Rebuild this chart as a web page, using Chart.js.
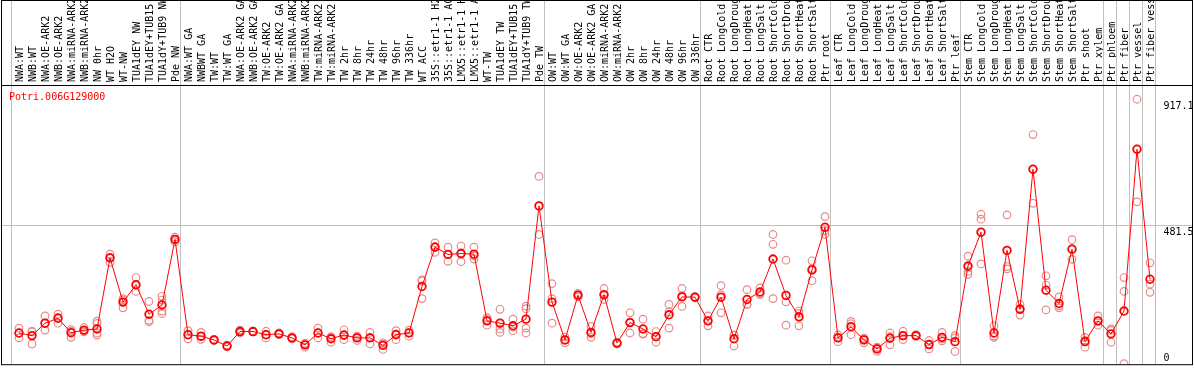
<!DOCTYPE html>
<html lang="en">
<head>
  <meta charset="UTF-8">
  <title>Potri.006G129000</title>
  <script src="https://cdn.jsdelivr.net/npm/chart.js"></script>
  <style>
    html, body { margin: 0; padding: 0; background: #ffffff; }
    canvas { display: block; }
  </style>
</head>
<body>
  <canvas id="exprChart" width="1194" height="370"></canvas>

  <script>
    const geneName = 'Potri.006G129000';

    const categories = [
      'NWA:WT', 'NWB:WT', 'NWA:OE-ARK2', 'NWB:OE-ARK2', 'NWA:miRNA-ARK2', 'NWB:miRNA-ARK2',
      'NW 0hr', 'WT H2O', 'WT-NW', 'TUA1dEY NW', 'TUA1dEY+TUB15', 'TUA1dY+TUB9 NW', 'Pde NW',
      'NWA:WT GA', 'NWBWT GA', 'TW:WT', 'TW:WT GA', 'NWA:OE-ARK2 GA', 'NWB:OE-ARK2 GA',
      'TW:OE-ARK2', 'TW:OE-ARK2 GA', 'NWA:miRNA-ARK2', 'NWB:miRNA-ARK2', 'TW:miRNA-ARK2', 'TW:miRNA-ARK2',
      'TW 2hr', 'TW 8hr', 'TW 24hr', 'TW 48hr', 'TW 96hr', 'TW 336hr', 'WT ACC',
      '35S::etr1-1 H2', '35S::etr1-1 AC', 'LMX5::etr1-1 H', 'LMX5::etr1-1 A',
      'WT-TW', 'TUA1dEY TW', 'TUA1dEY+TUB15', 'TUA1dY+TUB9 TW', 'Pde TW',
      'OW:WT', 'OW:WT GA', 'OW:OE-ARK2', 'OW:OE-ARK2 GA', 'OW:miRNA-ARK2', 'OW:miRNA-ARK2',
      'OW 2hr', 'OW 8hr', 'OW 24hr', 'OW 48hr', 'OW 96hr', 'OW 336hr',
      'Root CTR', 'Root LongCold', 'Root LongDroug', 'Root LongHeat', 'Root LongSalt',
      'Root ShortCold', 'Root ShortDrou', 'Root ShortHeat', 'Root ShortSalt', 'Ptr root',
      'Leaf CTR', 'Leaf LongCold', 'Leaf LongDroug', 'Leaf LongHeat', 'Leaf LongSalt',
      'Leaf ShortCold', 'Leaf ShortDrou', 'Leaf ShortHeat', 'Leaf ShortSalt', 'Ptr leaf',
      'Stem CTR', 'Stem LongCold', 'Stem LongDroug', 'Stem LongHeat', 'Stem LongSalt',
      'Stem ShortCold', 'Stem ShortDrou', 'Stem ShortHeat', 'Stem ShortSalt', 'Ptr shoot',
      'Ptr xylem', 'Ptr phloem', 'Ptr fiber', 'Ptr vessel', 'Ptr fiber vess'
    ];

    // mean expression per sample
    const meanValues = [
      108, 99, 142, 159, 109, 118, 122, 368, 215, 275, 173, 205, 432,
      102, 97, 84, 63, 113, 113, 102, 105, 91, 67, 108, 88, 101, 91, 91, 65, 102, 108,
      269, 405, 380, 383, 381, 150, 142, 133, 156, 548,
      215, 84, 239, 110, 241, 73, 144, 122, 95, 171, 233, 232,
      150, 232, 88, 224, 250, 364, 238, 164, 326, 474,
      91, 130, 84, 53, 90, 99, 99, 68, 93, 78,
      340, 457, 108, 394, 190, 675, 256, 210, 398, 78,
      150, 105, 184, 744, 294
    ];

    // individual replicates per sample
    const replicateValues = [
      [125, 108, 91], [114, 112, 70], [167, 142, 118], [173, 162, 142], [93, 114, 120],
      [127, 112, 116], [149, 141, 101, 108], [381, 370, 352], [227, 222, 195], [300, 273, 252],
      [217, 152, 147], [235, 222, 184, 175], [440, 432, 424],
      [116, 102, 88], [110, 95, 86], [86, 84, 82], [66, 63, 60], [118, 113, 108],
      [114, 113, 112], [114, 102, 91], [108, 104, 103], [95, 90, 88], [59, 72, 70],
      [125, 108, 91], [95, 93, 76], [119, 99, 85], [97, 94, 82], [110, 93, 70],
      [70, 74, 51], [116, 105, 85], [118, 110, 97], [292, 288, 227], [420, 408, 387],
      [405, 380, 356], [409, 385, 355], [405, 375, 364], [161, 154, 135], [190, 122, 110],
      [156, 128, 116], [201, 192, 125, 108], [650, 548, 449],
      [279, 227, 142], [94, 84, 74], [245, 239, 233], [131, 106, 93], [262, 238, 224],
      [76, 73, 70], [178, 146, 108], [156, 106, 104], [113, 96, 76], [207, 181, 125],
      [262, 237, 200], [234, 232, 230],
      [167, 150, 133], [272, 241, 178], [101, 100, 63], [258, 207, 207], [264, 245, 241],
      [449, 415, 227], [360, 216, 135], [184, 175, 133], [358, 331, 289], [511, 462, 449],
      [101, 94, 78], [148, 140, 102], [88, 90, 74], [59, 55, 45], [108, 95, 67],
      [114, 98, 85], [102, 99, 96], [82, 69, 53], [110, 88, 81], [99, 91, 44],
      [374, 336, 321, 311], [519, 502, 347], [133, 98, 93], [517, 338, 330], [207, 193, 170],
      [795, 675, 557], [306, 274, 188], [233, 202, 195], [431, 400, 363], [93, 82, 59],
      [167, 148, 135], [122, 117, 76], [300, 252, 2], [917.1, 744, 562], [351, 277, 249]
    ];

    const yTicks = [0, 481.5, 917.1];

    // index positions where a sample group ends
    const groupBreaks = [-0.5, 12.5, 40.5, 52.5, 62.5, 72.5, 83.5, 84.5, 85.5, 86.5, 87.5];

    const monoFont = '"DejaVu Sans Mono", monospace';

    const repPoints = [];
    replicateValues.forEach(function(reps, i) {
      reps.forEach(function(v) { repPoints.push({ x: i, y: v }); });
    });
    const meanPoints = meanValues.map(function(v, i) { return { x: i, y: v }; });

    const framePlugin = {
      id: 'frame',
      beforeDatasetsDraw: function(chart) {
        const ctx = chart.ctx;
        const xs = chart.scales.x;
        const ys = chart.scales.y;
        const area = chart.chartArea;
        ctx.save();
        ctx.strokeStyle = '#c0c0c0';
        ctx.lineWidth = 1;
        // group separators
        groupBreaks.forEach(function(b) {
          const px = Math.round(xs.getPixelForValue(b)) - 1.5;
          ctx.beginPath();
          ctx.moveTo(px, 0);
          ctx.lineTo(px, area.bottom);
          ctx.stroke();
        });
        // middle gridline
        const gy = Math.round(ys.getPixelForValue(yTicks[1])) + 0.5;
        ctx.beginPath();
        ctx.moveTo(1, gy);
        ctx.lineTo(chart.width - 2, gy);
        ctx.stroke();
        ctx.restore();
      },
      afterDraw: function(chart) {
        const ctx = chart.ctx;
        const ys = chart.scales.y;
        const area = chart.chartArea;
        ctx.save();
        ctx.strokeStyle = '#000000';
        ctx.lineWidth = 1;
        ctx.strokeRect(1.5, 0.5, chart.width - 3, area.bottom);
        ctx.beginPath();
        ctx.moveTo(1, area.top - 0.5);
        ctx.lineTo(chart.width - 2, area.top - 0.5);
        ctx.stroke();

        ctx.font = '10px ' + monoFont;
        ctx.fillStyle = '#ff0000';
        ctx.textAlign = 'left';
        ctx.textBaseline = 'top';
        ctx.fillText(geneName, 9, area.top + 6);

        ctx.fillStyle = '#000000';
        yTicks.forEach(function(v) {
          const py = ys.getPixelForValue(v);
          if (v === 0) {
            ctx.textBaseline = 'bottom';
            ctx.fillText(String(v), area.right + 7, py - 1);
          } else {
            ctx.textBaseline = 'top';
            ctx.fillText(String(v), area.right + 7, py + 2);
          }
        });
        ctx.restore();
      }
    };

    const ctx = document.getElementById('exprChart').getContext('2d');
    new Chart(ctx, {
      type: 'line',
      data: {
        datasets: [
          {
            label: 'mean',
            data: meanPoints,
            borderColor: '#ff0000',
            borderWidth: 1,
            pointRadius: 3.8,
            pointBorderWidth: 1.8,
            pointBorderColor: '#ff0000',
            pointBackgroundColor: 'rgba(0,0,0,0)',
            tension: 0,
            order: 1
          },
          {
            label: 'replicates',
            data: repPoints,
            showLine: false,
            pointRadius: 3.8,
            pointBorderWidth: 1.2,
            pointBorderColor: '#e98a8a',
            pointBackgroundColor: 'rgba(0,0,0,0)',
            order: 2
          }
        ]
      },
      options: {
        responsive: false,
        animation: false,
        devicePixelRatio: 1,
        layout: {
          padding: { left: 12.5, right: 0, top: 0, bottom: 1 }
        },
        plugins: {
          legend: { display: false },
          tooltip: { enabled: false }
        },
        scales: {
          x: {
            type: 'linear',
            position: 'top',
            min: -0.5,
            max: categories.length - 0.5,
            grid: { display: false, drawTicks: false },
            border: { display: false },
            afterBuildTicks: function(scale) {
              scale.ticks = categories.map(function(c, i) { return { value: i }; });
            },
            afterFit: function(scale) {
              scale.height = 86;
            },
            ticks: {
              autoSkip: false,
              maxRotation: 90,
              minRotation: 90,
              padding: 4,
              labelOffset: 13,
              color: '#000000',
              font: { family: monoFont, size: 10 },
              callback: function(value) {
                return categories[value];
              }
            }
          },
          y: {
            position: 'right',
            min: 0,
            max: 963,
            grid: { display: false, drawTicks: false },
            border: { display: false },
            afterFit: function(scale) {
              scale.width = 37.5;
            },
            ticks: { display: false }
          }
        }
      },
      plugins: [framePlugin]
    });
  </script>
</body>
</html>
